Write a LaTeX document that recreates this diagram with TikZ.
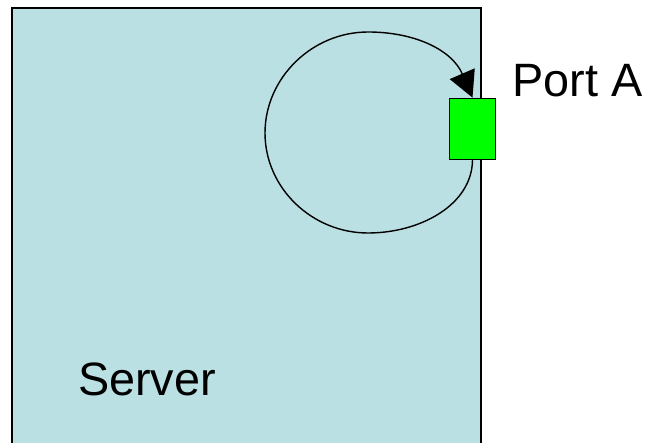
\documentclass[tikz,border=0pt]{standalone}
\usepackage{fontspec}
\setmainfont{Liberation Sans}
\usetikzlibrary{arrows.meta}
\definecolor{serverfill}{RGB}{186,224,227}
\definecolor{portgreen}{RGB}{0,255,0}
\begin{document}
\begin{tikzpicture}[x=1pt,y=-1pt,
  box/.style={draw=black,line width=2pt,fill=serverfill,rectangle,inner sep=0pt},
  portbox/.style={draw=black,line width=1.4pt,fill=portgreen,rectangle,inner sep=0pt,
    minimum width=46pt,minimum height=61pt},
  label/.style={font=\fontsize{46.8}{56}\selectfont,anchor=base west,inner sep=0pt},
  loop/.style={draw=black,line width=1.4pt,
    -{Triangle[length=26pt,width=27pt]}}]
  \useasboundingbox (0,0) rectangle (647,443);
  \clip (0,0) rectangle (647,443);
  % server enclosure, running off the bottom edge
  \node[box,anchor=north west,minimum width=469pt,minimum height=470pt] (server) at (11,7) {};
  % port on the right wall
  \node[portbox] (port) at (472.5,128.8) {};
  % traffic looping back into the port
  \draw[loop] (port.south) .. controls (472,205) and (420,233) .. (368,233)
    .. controls (312,233) and (265,188) .. (265,133)
    .. controls (265,78) and (312,32) .. (368,32)
    .. controls (415,32) and (452,50) .. (port.north);
  \node[label] (portlabel) at (512.3,96.7) {Port A};
  \node[label] (serverlabel) at (77.8,395) {Server};
\end{tikzpicture}
\end{document}
